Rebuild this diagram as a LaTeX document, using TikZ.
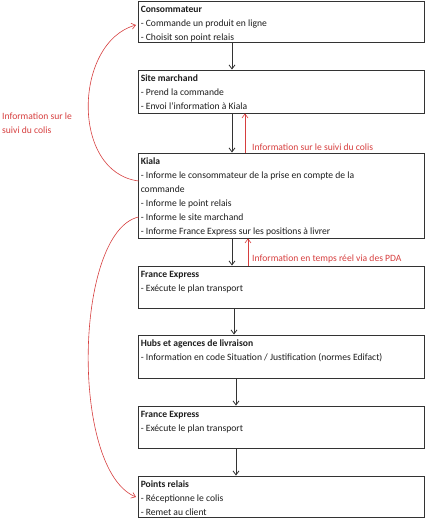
\documentclass[tikz,border=0pt]{standalone}
\usepackage{fontspec}
\setmainfont{Carlito}
\usetikzlibrary{arrows.meta}
\definecolor{redc}{RGB}{214,62,62}
\definecolor{txt}{RGB}{30,30,30}
\tikzset{
  box/.style={draw=black!80, line width=0.9pt, minimum width=286pt, inner sep=0pt, fill=white},
  btext/.style={anchor=north west, inner sep=0pt, align=left, text=txt, font=\fontsize{9.6}{14}\selectfont},
  darr/.style={draw=black!80, line width=0.8pt, -{Straight Barb[length=4pt,width=6pt]}},
  rarr/.style={draw=redc, line width=0.6pt, -{Straight Barb[length=4pt,width=6pt]}},
  rlab/.style={text=redc, inner sep=0pt, align=left, font=\fontsize{9.6}{14}\selectfont}
}
\begin{document}
\begin{tikzpicture}[x=1pt,y=-1pt]
\useasboundingbox (0,0) rectangle (426,518);
% boxes
\node[box, minimum height=41pt] (b1) at (281,21.5) {};
\node[box, minimum height=43pt] (b2) at (281,91.5) {};
\node[box, minimum height=85pt] (b3) at (281,195.5) {};
\node[box, minimum height=42pt] (b4) at (281,287) {};
\node[box, minimum height=43pt] (b5) at (281,356.5) {};
\node[box, minimum height=42pt] (b6) at (281,427) {};
\node[box, minimum height=41pt] (b7) at (281,496.5) {};
% texts
\node[btext] (t1) at ([xshift=3pt,yshift=-1.7pt]b1.north west) {\strut\textbf{Consommateur}\\- Commande un produit en ligne\\- Choisit son point relais};
\node[btext] (t2) at ([xshift=3pt,yshift=-1.7pt]b2.north west) {\strut\textbf{Site marchand}\\- Prend la commande\\- Envoi l'information à Kiala};
\node[btext] (t3) at ([xshift=3pt,yshift=-1.7pt]b3.north west) {\strut\textbf{Kiala}\\- Informe le consommateur de la prise en compte de la\\commande\\- Informe le point relais\\- Informe le site marchand\\- Informe France Express sur les positions à livrer};
\node[btext] (t4) at ([xshift=3pt,yshift=-1.7pt]b4.north west) {\strut\textbf{France Express}\\- Exécute le plan transport};
\node[btext] (t5) at ([xshift=3pt,yshift=-1.7pt]b5.north west) {\strut\textbf{Hubs et agences de livraison}\\- Information en code Situation / Justification (normes Edifact)};
\node[btext] (t6) at ([xshift=3pt,yshift=-1.7pt]b6.north west) {\strut\textbf{France Express}\\- Exécute le plan transport};
\node[btext] (t7) at ([xshift=3pt,yshift=-1.7pt]b7.north west) {\strut\textbf{Points relais}\\- Réceptionne le colis\\- Remet au client};
% black arrows
\draw[darr] ([xshift=-49pt]b1.south) -- ([xshift=-49pt]b2.north);
\draw[darr] ([xshift=-49pt]b2.south) -- ([xshift=-49pt]b3.north);
\draw[darr] ([xshift=-49pt]b3.south) -- ([xshift=-49pt]b4.north);
\draw[darr] ([xshift=-47pt]b4.south) -- ([xshift=-47pt]b5.north);
\draw[darr] ([xshift=-45pt]b5.south) -- ([xshift=-45pt]b6.north);
\draw[darr] ([xshift=-45pt]b6.south) -- ([xshift=-45pt]b7.north);
% red up arrows
\draw[rarr] ([xshift=-36pt]b3.north) -- ([xshift=-36pt]b2.south);
\draw[rarr] ([xshift=-33pt]b4.north) -- ([xshift=-33pt]b3.south);
\node[rlab, anchor=west] (l1) at (252,147.5) {Information sur le suivi du colis};
\node[rlab, anchor=west] (l2) at (252,259) {Information en temps réel via des PDA};
% red curves
\coordinate (c1s) at (138.5,181);
\coordinate (c1e) at (136,25);
\coordinate (c2s) at (138.5,217);
\coordinate (c2e) at (136,497);
\draw[rarr] (c1s) .. controls (70,172) and (74,42) .. (c1e);
\draw[rarr] (c2s) .. controls (74,232) and (70,470) .. (c2e);
\node[rlab, anchor=north west] (l3) at (2,113) {Information sur le\\suivi du colis};
\end{tikzpicture}
\end{document}
